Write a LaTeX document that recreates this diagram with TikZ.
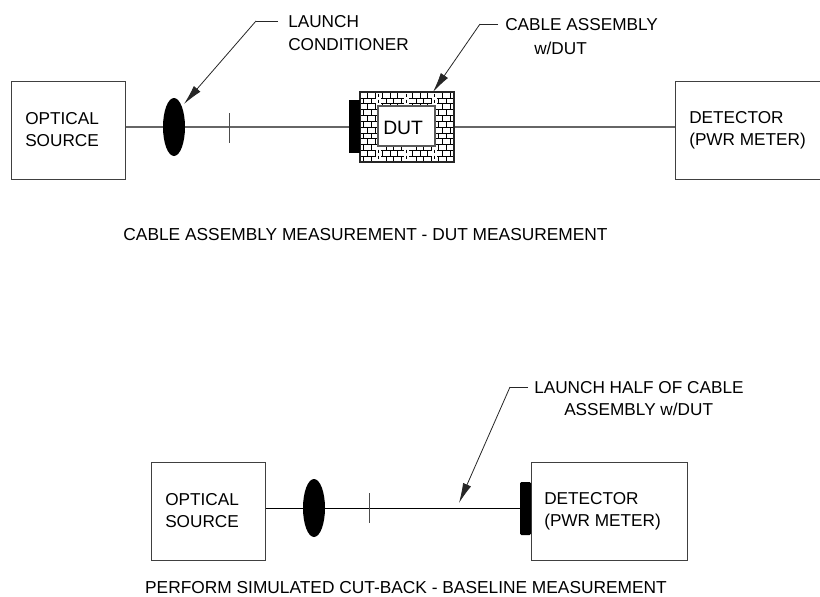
\documentclass[tikz,border=0pt]{standalone}
\usepackage{fontspec}
\setmainfont{Liberation Sans}
\usetikzlibrary{arrows.meta}
\tikzset{
  x=0.75pt,y=-0.75pt,
  boxn/.style={draw=black!75,line width=0.75pt,inner sep=0},
  lbl/.style={font=\fontsize{12.9}{16.5}\selectfont,inner sep=0,align=left,anchor=west},
  onel/.style={font=\fontsize{12.9}{15}\selectfont,inner sep=0,anchor=west},
  captxt/.style={font=\fontsize{13}{15}\selectfont,inner sep=0,anchor=center},
  fiber/.style={draw=black!60,line width=1.3pt},
  fiberb/.style={draw=black,line width=0.75pt},
  tickm/.style={draw=black!70,line width=0.7pt},
  blob/.style={fill=black,draw=none},
  leader/.style={draw=black!85,line width=0.6pt},
  leadera/.style={leader,-{Latex[length=15pt,width=6.5pt]}},
  brick/.style={draw=black,line width=0.42pt},
}
\begin{document}
\begin{tikzpicture}
\useasboundingbox (0,0) rectangle (820,596);
% ---- top assembly
\node[boxn,minimum width=114*0.75pt,minimum height=98*0.75pt] (src1) at (68,130) {};
\node[lbl] (os1) at (25,130) {OPTICAL\\SOURCE};
\node[boxn,minimum width=160*0.75pt,minimum height=98*0.75pt,anchor=west] (det1) at (675,130) {};
\node[lbl] (dt1) at (689,130) {DETECTOR\\(PWR METER)};
\draw[fiber] (src1.east |- 0,127) -- (det1.west |- 0,127);
\fill[blob] (174,127) ellipse [x radius=11,y radius=29];
\coordinate (t1a) at (229,113); \coordinate (t1b) at (229,143);
\draw[tickm] (t1a) -- (t1b);
% DUT
\fill[white] (360,92) rectangle (454,162);
\begin{scope}
\clip (360,92) rectangle (454,162);
\foreach \r in {0,...,11}{
  \pgfmathsetmacro{\yy}{92+\r*5.83}
  \draw[brick] (360,\yy) -- (454,\yy);
  \pgfmathsetmacro{\off}{mod(\r,2)*3.75}
  \foreach \c in {0,...,13}{
    \pgfmathsetmacro{\xx}{360+\off+\c*7.5}
    \draw[brick] (\xx,\yy) -- (\xx,\yy+5.83);
  }
}
\foreach \x in {378,406,434}{
  \fill[white] (\x-2.5,92.5) rectangle (\x+2.5,105);
  \fill[white] (\x-2.5,147) rectangle (\x+2.5,161.5);
  \foreach \yy in {95,101,151,157}
    \draw[brick] (\x,\yy-1.5) -- (\x,\yy+1.5);
}
\end{scope}
\draw[draw=black!85,line width=0.8pt] (360,92) rectangle (454,162);
\node[draw=black!65,fill=white,line width=0.8pt,minimum width=57*0.75pt,minimum height=40*0.75pt,inner sep=0] (dut) at (406.5,126) {};
\node[inner sep=0,anchor=west,font=\fontsize{14.5}{18}\selectfont] (dutt) at (383,127.5) {DUT};
\fill[blob] (349,100) rectangle (360,153);
% labels + leaders
\node[lbl,font=\fontsize{12.9}{17.2}\selectfont] (lc) at (288,33.5) {LAUNCH\\CONDITIONER};
\coordinate (lck) at (256,21);
\draw[leader] (278,21) -- (lck);
\draw[leadera] (lck) -- (184,104);
\node[onel] (ca1) at (505,25) {CABLE ASSEMBLY};
\node[onel] (ca2) at (534,48) {w/DUT};
\coordinate (cak) at (480,24);
\draw[leader] (498,24) -- (cak);
\draw[leadera] (cak) -- (433,92);
\node[captxt] (cap1) at (365.5,235) {CABLE ASSEMBLY MEASUREMENT - DUT MEASUREMENT};
% ---- bottom assembly
\node[boxn,minimum width=114*0.75pt,minimum height=98*0.75pt] (src2) at (208,511) {};
\node[lbl] (os2) at (165,511) {OPTICAL\\SOURCE};
\node[boxn,minimum width=156*0.75pt,minimum height=98*0.75pt] (det2) at (609,511) {};
\node[lbl] (dt2) at (544,511) {DETECTOR\\(PWR METER)};
\fill[blob,rounded corners=1pt] (520,482) rectangle (531,535);
\draw[fiberb] (src2.east |- 0,508) -- (det2.west |- 0,508);
\fill[blob] (314,508) ellipse [x radius=11,y radius=29];
\coordinate (t2a) at (369,493); \coordinate (t2b) at (369,523);
\draw[tickm] (t2a) -- (t2b);
\node[onel] (lh1) at (534,387.5) {LAUNCH HALF OF CABLE};
\node[onel] (lh2) at (564,409.5) {ASSEMBLY w/DUT};
\coordinate (lhk) at (510,387);
\draw[leader] (528,387) -- (lhk);
\draw[leadera] (lhk) -- (459,503);
\node[captxt] (cap2) at (406,587.5) {PERFORM SIMULATED CUT-BACK - BASELINE MEASUREMENT};
\end{tikzpicture}
\end{document}
